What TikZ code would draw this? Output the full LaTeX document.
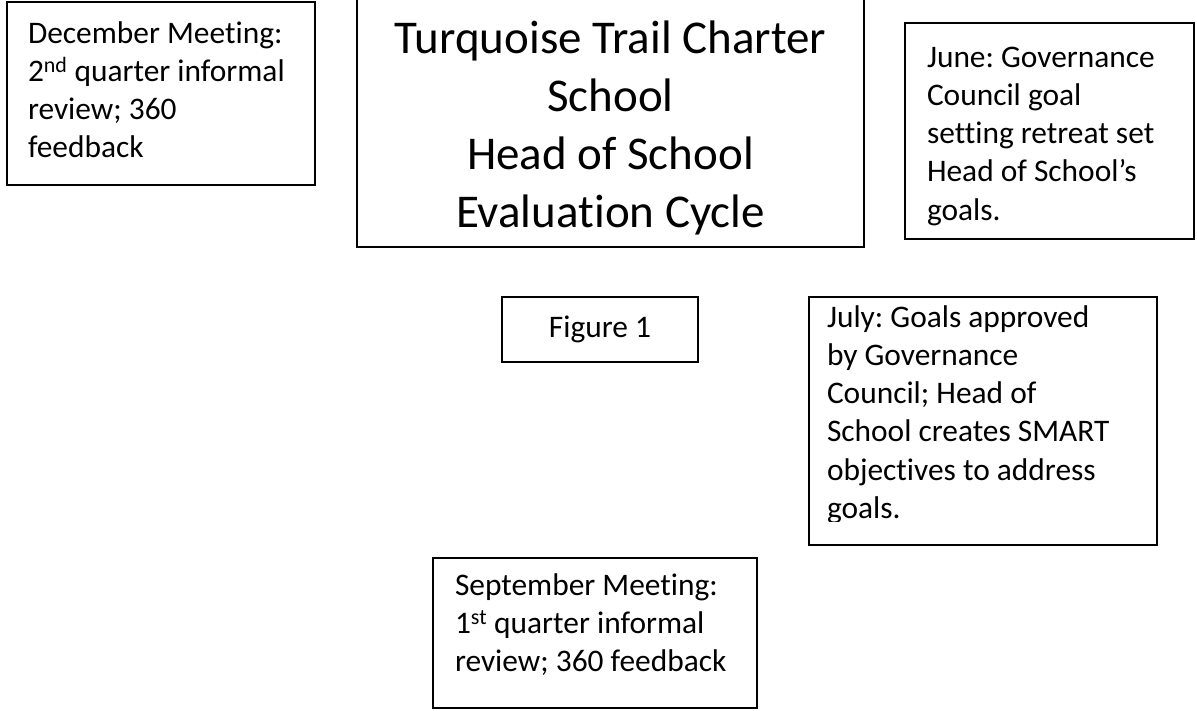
\documentclass[tikz,border=0pt]{standalone}
\usepackage{fontspec}
\setmainfont{Carlito}[Ligatures=NoCommon]
\usetikzlibrary{calc,positioning}
\frenchspacing

\begin{document}
\begin{tikzpicture}[x=1pt,y=-1pt,every node/.style={inner sep=0pt,outer sep=0pt},
  box/.style={draw,line width=1.8pt,anchor=north west},
  note/.style={anchor=north west,align=left,font=\fontsize{31.4}{38.3}\selectfont},
  heading/.style={anchor=north,align=center,font=\fontsize{47}{57.7}\selectfont}]
\useasboundingbox (0,0) rectangle (1197,711);
% frames
\node[box,minimum width=308pt,minimum height=183pt] (december) at (7,2) {};
\node[box,minimum width=507pt,minimum height=267pt] (titlebox) at (357,-20) {};
\node[box,minimum width=289pt,minimum height=216pt] (june) at (905,23) {};
\node[box,minimum width=196pt,minimum height=65pt] (figure) at (502,297) {};
\node[box,minimum width=348pt,minimum height=248pt] (july) at (809,297) {};
\node[box,minimum width=324pt,minimum height=150pt] (september) at (433,558) {};
% texts
\node [note] (decembertext) at ($(december.north west)+(21,14.2)$) {\strut December Meeting:\\2\textsuperscript{nd} quarter informal\\review; 360\\feedback};
\node [heading] (titletext) at ($(titlebox.north)+(0,33.6)$) {\strut Turquoise Trail Charter\\School\\Head of School\\Evaluation Cycle};
\node [note] (junetext) at ($(june.north west)+(22,17.2)$) {\strut June: Governance\\Council goal\\setting retreat set\\Head of School’s\\goals.};
\node [font=\fontsize{31.4}{38.3}\selectfont] (figuretext) at (figure.center) {Figure 1};
\begin{scope}
\clip (july.north west) rectangle ($(july.south east)+(0,-24)$);
\node [note] (julytext) at ($(july.north west)+(18,3.2)$) {\strut July: Goals approved\\by Governance\\Council; Head of\\School creates SMART\\objectives to address\\goals.};
\end{scope}
\node [note] (septembertext) at ($(september.north west)+(22,10.2)$) {\strut September Meeting:\\1\textsuperscript{st} quarter informal\\review; 360 feedback};
\end{tikzpicture}
\end{document}
